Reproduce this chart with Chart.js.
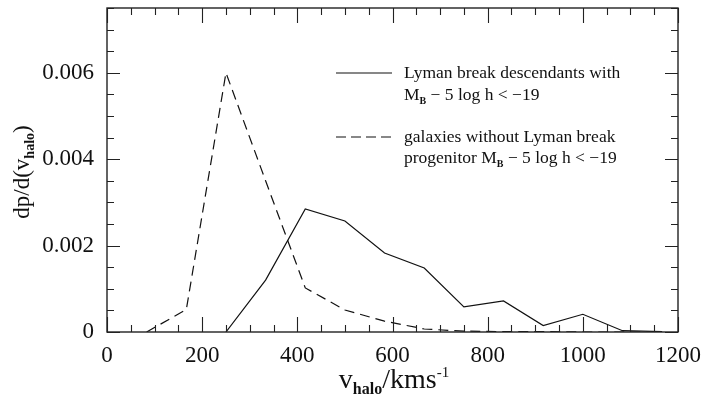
<!DOCTYPE html>
<html>
<head>
<meta charset="utf-8">
<script src="https://cdn.jsdelivr.net/npm/chart.js@4"></script>
<style>
  html, body { margin: 0; padding: 0; background: #fff; }
  #wrap { width: 722px; height: 402px; position: relative; }
</style>
</head>
<body>
<div id="wrap"><canvas id="chart"></canvas></div>
<script>
// halo velocity bin centres (km/s)
const binCentres = [83.3, 166.7, 250, 333.3, 416.7, 500, 583.3, 666.7, 750, 833.3, 916.7, 1000, 1083.3, 1166.7];
// dp/d(v_halo) for Lyman break descendants (solid)
const lymanDescendants = [null, null, 0, 0.0012, 0.00285, 0.00257, 0.00183, 0.00148, 0.00058, 0.00072, 0.00015, 0.00041, 0.00003, 0.00001];
// dp/d(v_halo) for galaxies without Lyman break progenitor (dashed)
const noProgenitor = [0, 0.00052, 0.0060, 0.0035, 0.00102, 0.00051, 0.00025, 0.00007, 0.00002, 0.00001, 0.00001, 0, 0, 0];

const xRange = [0, 1200];
const yRange = [0, 0.0075];
const xMinorStep = 50, xMajorStep = 200;
const yMinorStep = 0.0005, yMajorStep = 0.002;

const serif = '"Liberation Serif", "DejaVu Serif", serif';
const ink = '#111';

function toPoints(values) {
  return binCentres.map((x, i) => ({ x: x, y: values[i] })).filter(p => p.y !== null);
}

function isMultiple(v, step) {
  const r = v / step;
  return Math.abs(r - Math.round(r)) < 1e-6;
}

// draws text runs with sub/superscripts starting at x, baseline y
function drawRuns(ctx, runs, x, y) {
  runs.forEach(r => {
    ctx.font = r.font;
    ctx.fillText(r.text, x, y + (r.dy || 0));
    x += ctx.measureText(r.text).width + (r.gap || 0);
  });
  return x;
}
function runsWidth(ctx, runs) {
  let w = 0;
  runs.forEach(r => { ctx.font = r.font; w += ctx.measureText(r.text).width + (r.gap || 0); });
  return w;
}

const frameAndLabels = {
  id: 'frameAndLabels',
  afterDraw(chart) {
    const { ctx, chartArea: a, scales: { x, y } } = chart;
    ctx.save();
    ctx.strokeStyle = '#222';
    ctx.lineWidth = 1.4;
    ctx.strokeRect(a.left, a.top, a.right - a.left, a.bottom - a.top);

    ctx.lineWidth = 1.1;
    ctx.beginPath();
    x.ticks.forEach(t => {
      const px = Math.round(x.getPixelForValue(t.value)) + 0.5;
      const len = isMultiple(t.value, xMajorStep) ? 15 : 7;
      ctx.moveTo(px, a.bottom); ctx.lineTo(px, a.bottom - len);
      ctx.moveTo(px, a.top); ctx.lineTo(px, a.top + len);
    });
    y.ticks.forEach(t => {
      const py = Math.round(y.getPixelForValue(t.value)) + 0.5;
      const len = isMultiple(t.value, yMajorStep) ? 13 : 7;
      ctx.moveTo(a.left, py); ctx.lineTo(a.left + len, py);
      ctx.moveTo(a.right, py); ctx.lineTo(a.right - len, py);
    });
    ctx.stroke();

    ctx.fillStyle = ink;
    ctx.textBaseline = 'alphabetic';
    ctx.textAlign = 'left';

    // x title: v_halo / kms^-1
    const xbig = '28px ' + serif;
    const xsub = 'bold 16px ' + serif;
    const xsup = '15px ' + serif;
    const xRuns = [
      { text: 'v', font: xbig },
      { text: 'halo', font: xsub, dy: 6 },
      { text: '/kms', font: xbig },
      { text: '-1', font: xsup, dy: -11 }
    ];
    const xw = runsWidth(ctx, xRuns);
    drawRuns(ctx, xRuns, 394 - xw / 2, 388);

    // y title: dp/d(v_halo)
    const ybig = '23px ' + serif;
    const ysub = 'bold 14px ' + serif;
    const yRuns = [
      { text: 'dp/d(v', font: ybig },
      { text: 'halo', font: ysub, dy: 5 },
      { text: ')', font: ybig }
    ];
    const yw = runsWidth(ctx, yRuns);
    ctx.save();
    ctx.translate(29, 172);
    ctx.rotate(-Math.PI / 2);
    drawRuns(ctx, yRuns, -yw / 2, 0);
    ctx.restore();

    // legend
    const lf = '17.5px ' + serif;
    const lsub = 'bold 10px ' + serif;
    ctx.strokeStyle = ink;
    ctx.lineWidth = 1.1;
    ctx.beginPath(); ctx.moveTo(336, 73); ctx.lineTo(392, 73); ctx.stroke();
    ctx.setLineDash([10, 5]);
    ctx.beginPath(); ctx.moveTo(336, 137); ctx.lineTo(392, 137); ctx.stroke();
    ctx.setLineDash([]);
    drawRuns(ctx, [{ text: 'Lyman break descendants with', font: lf }], 404, 78);
    drawRuns(ctx, [
      { text: 'M', font: lf },
      { text: 'B', font: lsub, dy: 4 },
      { text: ' \u2212 5 log h < \u221219', font: lf }
    ], 404, 100);
    drawRuns(ctx, [{ text: 'galaxies without Lyman break', font: lf }], 404, 142);
    drawRuns(ctx, [
      { text: 'progenitor M', font: lf },
      { text: 'B', font: lsub, dy: 4 },
      { text: ' \u2212 5 log h < \u221219', font: lf }
    ], 404, 163);
    ctx.restore();
  }
};

new Chart(document.getElementById('chart'), {
  type: 'line',
  data: {
    datasets: [
      {
        label: 'Lyman break descendants with MB - 5 log h < -19',
        data: toPoints(lymanDescendants),
        borderColor: ink,
        borderWidth: 1.2,
        pointRadius: 0,
        tension: 0,
        fill: false
      },
      {
        label: 'galaxies without Lyman break progenitor MB - 5 log h < -19',
        data: toPoints(noProgenitor),
        borderColor: ink,
        borderWidth: 1.2,
        borderDash: [10, 6],
        pointRadius: 0,
        tension: 0,
        fill: false
      }
    ]
  },
  options: {
    responsive: true,
    maintainAspectRatio: false,
    animation: false,
    layout: { padding: { top: 8, right: 44, left: 0, bottom: 0 } },
    plugins: {
      legend: { display: false },
      tooltip: { enabled: false }
    },
    scales: {
      x: {
        type: 'linear',
        min: xRange[0],
        max: xRange[1],
        grid: { display: false },
        border: { display: false },
        afterFit: s => { s.height = 70; s.paddingLeft = 0; s.paddingRight = 0; },
        ticks: {
          stepSize: xMinorStep,
          autoSkip: false,
          maxRotation: 0,
          padding: 2,
          color: ink,
          font: { family: serif, size: 23 },
          callback: v => isMultiple(v, xMajorStep) ? String(Math.round(v)) : ''
        }
      },
      y: {
        type: 'linear',
        min: yRange[0],
        max: yRange[1],
        grid: { display: false },
        border: { display: false },
        afterFit: s => { s.width = 107; s.paddingTop = 0; s.paddingBottom = 0; },
        ticks: {
          stepSize: yMinorStep,
          autoSkip: false,
          padding: 5,
          color: ink,
          font: { family: serif, size: 23 },
          callback: v => isMultiple(v, yMajorStep) ? (v === 0 ? '0' : v.toFixed(3)) : ''
        }
      }
    }
  },
  plugins: [frameAndLabels]
});
</script>
</body>
</html>
